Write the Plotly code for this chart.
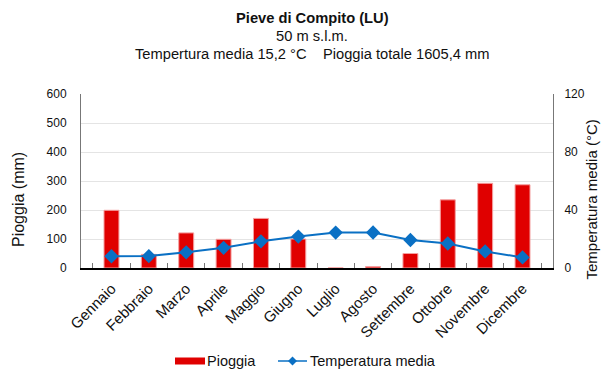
import plotly.graph_objects as go

mesi = ["Gennaio", "Febbraio", "Marzo", "Aprile", "Maggio", "Giugno",
        "Luglio", "Agosto", "Settembre", "Ottobre", "Novembre", "Dicembre"]
pioggia = [199, 47, 121, 99, 171, 100, 0.4, 5, 50, 235, 292, 287]
temperatura = [8.1, 8.2, 10.8, 13.9, 18.4, 21.7, 24.4, 24.5, 19.3, 16.9, 11.4, 7.3]

FONT = "Liberation Sans, Arial, sans-serif"
W, H = 602, 371
L, R, T, B = 81, 49, 94, 103
PW, PH = W - L - R, H - T - B

ROSSO = "#e00000"
BLU = "#0a70c4"


def px_x(x):
    return (x - L) / PW


def px_y(y):
    return (H - B - y) / PH


fig = go.Figure()
fig.add_trace(go.Bar(
    x=mesi, y=pioggia, name="Pioggia",
    marker=dict(color=ROSSO, line=dict(color="#f4a0a0", width=1)),
    width=0.4, yaxis="y", showlegend=False,
))
fig.add_trace(go.Scatter(
    x=mesi, y=temperatura, name="Temperatura media",
    mode="lines+markers",
    line=dict(color=BLU, width=2),
    marker=dict(symbol="diamond", size=11, color=BLU),
    yaxis="y2", showlegend=False,
))

fig.update_layout(
    width=W, height=H,
    margin=dict(l=L, r=R, t=T, b=B),
    paper_bgcolor="white", plot_bgcolor="white",
    font=dict(family=FONT, size=13, color="#111"),
    xaxis=dict(
        type="category", tickangle=-45, showgrid=False,
        showline=True, linecolor="#000", linewidth=2,
        ticks="inside", tickson="boundaries", ticklen=5, tickcolor="#777",
        tickfont=dict(size=15), automargin=False, ticklabelstandoff=4,
    ),
    yaxis=dict(
        range=[0, 600], tick0=0, dtick=100,
        showgrid=True, gridcolor="#e4e4e4", gridwidth=1,
        showline=True, linecolor="#777", linewidth=1,
        ticks="", tickfont=dict(size=12), zeroline=False,
        ticklabelstandoff=11, automargin=False,
    ),
    yaxis2=dict(
        range=[0, 120], tick0=0, dtick=40, overlaying="y", side="right",
        showgrid=False, showline=True, linecolor="#777", linewidth=1,
        ticks="outside", ticklen=8, tickcolor="rgba(0,0,0,0)",
        tickfont=dict(size=12), zeroline=False, automargin=False,
    ),
)

# axis titles
fig.add_annotation(text="Pioggia (mm)", textangle=-90,
                   x=px_x(18), xref="paper", xanchor="center",
                   y=px_y(200), yref="paper", yanchor="middle",
                   showarrow=False, font=dict(size=16, color="#111"))
fig.add_annotation(text="Temperatura media (°C)", textangle=-90,
                   x=px_x(601), xref="paper", xanchor="right",
                   y=px_y(200), yref="paper", yanchor="middle",
                   showarrow=False, font=dict(size=15, color="#111"))

# chart title block
titoli = [
    ("<b>Pieve di Compito (LU)</b>", 18),
    ("50 m s.l.m.", 36),
    ("Tempertura media 15,2 °C&nbsp;&nbsp;&nbsp;&nbsp;Pioggia totale 1605,4 mm", 54),
]
for testo, ypx in titoli:
    fig.add_annotation(
        text=testo, x=px_x(312), xref="paper", xanchor="center",
        y=px_y(ypx), yref="paper", yanchor="middle",
        showarrow=False, font=dict(size=14.7, color="#111"),
    )

# legend drawn below the plot
LY = 361
ly = px_y(LY)
fig.add_shape(type="rect", xref="paper", yref="paper",
              x0=px_x(175), x1=px_x(205), y0=px_y(LY + 3.5), y1=px_y(LY - 3.5),
              fillcolor=ROSSO, line=dict(width=0))
fig.add_annotation(text="Pioggia", x=px_x(205), xref="paper", xanchor="left",
                   y=ly, yref="paper", yanchor="middle", showarrow=False,
                   font=dict(size=14.5, color="#111"))
fig.add_shape(type="line", xref="paper", yref="paper",
              x0=px_x(278), x1=px_x(307), y0=ly, y1=ly,
              line=dict(color=BLU, width=1.5))
cx, r = 292.5, 4.5
fig.add_shape(
    type="path", xref="paper", yref="paper",
    path=(f"M {px_x(cx - r)} {ly} L {px_x(cx)} {px_y(LY - r)} "
          f"L {px_x(cx + r)} {ly} L {px_x(cx)} {px_y(LY + r)} Z"),
    fillcolor=BLU, line=dict(width=0),
)
fig.add_annotation(text="Temperatura media", x=px_x(308), xref="paper", xanchor="left",
                   y=ly, yref="paper", yanchor="middle", showarrow=False,
                   font=dict(size=14.5, color="#111"))

fig.write_html("out.html")
